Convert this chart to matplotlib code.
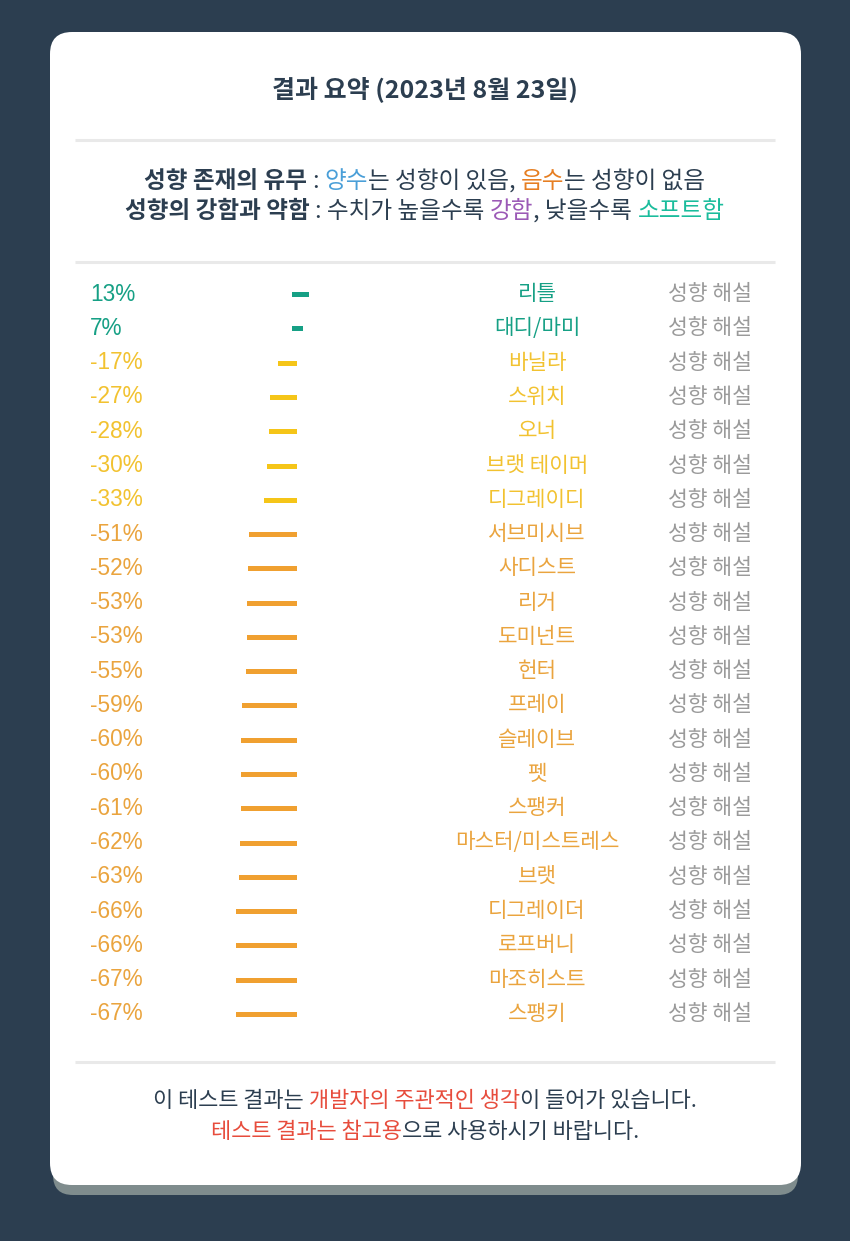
import matplotlib.pyplot as plt
import matplotlib.transforms as mtransforms
from matplotlib.patches import FancyBboxPatch

plt.rcParams['font.family'] = ['Noto Sans CJK KR', 'DejaVu Sans']

# data
pcts = [13, 7, -17, -27, -28, -30, -33, -51, -52, -53, -53, -55, -59, -60, -60,
        -61, -62, -63, -66, -66, -67, -67]
names = ['리틀', '대디/마미', '바닐라', '스위치', '오너', '브랫 테이머', '디그레이디',
         '서브미시브', '사디스트', '리거', '도미넌트', '헌터', '프레이', '슬레이브', '펫',
         '스팽커', '마스터/미스트레스', '브랫', '디그레이더', '로프버니', '마조히스트', '스팽키']
link_label = '성향 해설'
title = '결과 요약 (2023년 8월 23일)'
legend1 = [('성향 존재의 유무', '#2c3e50', 'bold'), (' : ', '#2c3e50', 'normal'),
           ('양수', '#4a9fd8', 'normal'), ('는 성향이 있음, ', '#2c3e50', 'normal'),
           ('음수', '#e67e22', 'normal'), ('는 성향이 없음', '#2c3e50', 'normal')]
legend2 = [('성향의 강함과 약함', '#2c3e50', 'bold'), (' : 수치가 높을수록 ', '#2c3e50', 'normal'),
           ('강함', '#9b59b6', 'normal'), (', 낮을수록 ', '#2c3e50', 'normal'),
           ('소프트함', '#1abc9c', 'normal')]
foot1 = [('이 테스트 결과는 ', '#2c3e50', 'normal'), ('개발자의 주관적인 생각', '#e74c3c', 'normal'),
         ('이 들어가 있습니다.', '#2c3e50', 'normal')]
foot2 = [('테스트 결과는 참고용', '#e74c3c', 'normal'), ('으로 사용하시기 바랍니다.', '#2c3e50', 'normal')]

TEAL = '#16a085'
YELLOW = '#f5c518'
ORANGE = '#f0a030'


def colour(v, text=False):
    if v > 0:
        return TEAL
    if v > -50:
        return '#f2c230' if text else YELLOW
    return '#eaa43e' if text else ORANGE


fig = plt.figure(figsize=(8.5, 12.41), dpi=100)
fig.patch.set_facecolor('#2c3e50')
bg = fig.add_axes([0, 0, 1, 1])
bg.set_xlim(0, 850)
bg.set_ylim(1241, 0)
bg.axis('off')

bg.add_patch(FancyBboxPatch((53, 60), 745, 1135, boxstyle='round,pad=0,rounding_size=20',
                            fc='#7f8c8d', ec='none'))
bg.add_patch(FancyBboxPatch((50, 32), 751, 1153, boxstyle='round,pad=0,rounding_size=22',
                            fc='white', ec='none'))

for y in [140, 262, 1062]:
    bg.plot([75, 775], [y, y], color='#e9e9e9', lw=2.2, solid_capstyle='butt')

bg.text(425, 90, title, ha='center', va='center', fontsize=18, weight='bold', color='#2c3e50')

renderer = fig.canvas.get_renderer()


def width(s, size, weight):
    t = bg.text(0, 0, '|' + s + '|', fontsize=size, weight=weight)
    w1 = t.get_window_extent(renderer).width
    t.set_text('||')
    w0 = t.get_window_extent(renderer).width
    t.remove()
    return w1 - w0


def rich_line(y, parts, size):
    widths = [width(s, size, wt) for s, c, wt in parts]
    x = 425 - sum(widths) / 2
    for (s, c, wt), w in zip(parts, widths):
        lead = s[:len(s) - len(s.lstrip())]
        off = width(lead, size, wt) if lead else 0
        bg.text(x + off, y, s.strip(), ha='left', va='center', fontsize=size,
                weight=wt, color=c)
        x += w


rich_line(181, legend1, 17)
rich_line(211, legend2, 17)
rich_line(1101, foot1, 15.8)
rich_line(1132, foot2, 15.8)

# rows
ax = fig.add_axes([75 / 850, 1 - 1031 / 1241, 700 / 850, (1031 - 277) / 1241])
ax.set_xlim(-258.2, 565.3)
ax.set_ylim(len(pcts) - 0.5, -0.5)
ax.axis('off')
blend = mtransforms.blended_transform_factory(ax.transAxes, ax.transData)

for i, (v, n) in enumerate(zip(pcts, names)):
    ax.plot([0, v], [i, i], color=colour(v), lw=3.6, solid_capstyle='projecting')
    ax.text(0.0214, i, f'{v}%', transform=blend, ha='left', va='center', fontsize=16.3,
            color=colour(v, True), family=['Liberation Sans', 'DejaVu Sans'])
    ax.text(0.66, i, n, transform=blend, ha='center', va='center', fontsize=15.3,
            color=colour(v, True))
    ax.text(0.907, i, link_label, transform=blend, ha='center', va='center', fontsize=15.5,
            color='#9a9a9a')

fig.savefig('out.png', dpi=100, facecolor=fig.get_facecolor())
